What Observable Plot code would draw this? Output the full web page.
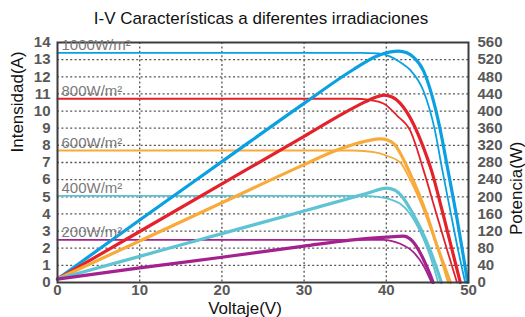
<!DOCTYPE html>
<html>
<head>
<meta charset="utf-8">
<script src="https://cdn.jsdelivr.net/npm/d3@7"></script>
<script src="https://cdn.jsdelivr.net/npm/@observablehq/plot@0.6"></script>
<style>
html, body { margin: 0; padding: 0; background: #fff; }
#chart svg { display: block; }
</style>
</head>
<body>
<div id="chart"></div>
<script>
// ---- data ----
const chartTitle = "I-V Características a diferentes irradiaciones";
const xLabel = "Voltaje(V)";
const yLabelLeft = "Intensidad(A)";
const yLabelRight = "Potencia(W)";

const irradiances = ["1000W/m²", "800W/m²", "600W/m²", "400W/m²", "200W/m²"];
const seriesColors = ["#0aa0e2", "#e4222b", "#f8aa3a", "#5ec3d3", "#a3228e"];

const xTicks = [0, 10, 20, 30, 40, 50];
const currentTicks = [0, 1, 2, 3, 4, 5, 6, 7, 8, 9, 10, 11, 12, 13, 14];
const powerTicks = [0, 40, 80, 120, 160, 200, 240, 280, 320, 360, 400, 440, 480, 520, 560];

// I-V curves: [voltage (V), current (A)]
const iv1000 = [[0,13.4],[37,13.4],[39,13.36],[40.5,13.18],[41.7,12.85],[42.9,12.4],[44.5,11.2],[45.9,8.9],[46.8,6.6],[47.7,4.4],[48.6,2.2],[49.6,0]];
const iv800  = [[0,10.72],[36,10.72],[38,10.65],[39.7,10.43],[41.3,9.74],[42.9,8.87],[44.5,6.6],[46.1,4.0],[47.4,1.9],[48.6,0]];
const iv600  = [[0,7.7],[36,7.7],[38.5,7.6],[40,7.4],[41.7,7.0],[42.9,6.0],[44.9,3.8],[46.3,1.9],[47.5,0]];
const iv400  = [[0,5.05],[37,5.05],[39,5.0],[40.5,4.85],[41.7,4.59],[42.9,4.0],[44,3.1],[44.9,2.1],[45.7,1.0],[46.3,0]];
const iv200  = [[0,2.49],[39.6,2.49],[40.7,2.42],[41.7,2.26],[43.3,1.77],[44.5,1.0],[45.5,0]];

// P-V curves: [voltage (V), power (W)]
const pv1000 = [[0,8],[10,146],[20,282],[30,418],[36,497],[38.8,528],[40.5,538],[41.5,540],[42.5,536],[43.3,526],[44.5,495],[45.5,440],[46.5,362],[47.5,262],[48.5,160],[49.9,0]];
const pv800  = [[0,8],[10,119],[20,230],[30,341],[35,397],[37.5,422],[38.7,432],[39.7,437],[40.7,433],[41.7,418],[43.3,370],[44.5,316],[45.5,261],[46.9,160],[49.0,0]];
const pv600  = [[0,8],[10,97],[20,186],[30,275],[34,309],[36,322],[37.8,331],[39.3,335],[40.2,332],[40.9,324],[42.9,254],[44.9,160],[46.1,90],[47.8,0]];
const pv400  = [[0,8],[10,61],[20,114],[30,167],[36,199],[38,210],[40,220],[41,216],[42.1,196],[43.1,165],[44.1,129],[45.5,67],[46.7,0]];
const pv200  = [[0,8],[10,34],[20,59],[30,85],[35.6,99],[40,106],[42.1,108],[42.8,103],[43.3,94],[44.5,55],[45.3,20],[45.7,0]];

const ivCurves = [iv1000, iv800, iv600, iv400, iv200];
const pvCurves = [pv1000, pv800, pv600, pv400, pv200];

// ---- build tables ----
const powerPerAmp = powerTicks[powerTicks.length - 1] / currentTicks[currentTicks.length - 1];
const ivRows = [], pvRows = [];
irradiances.forEach((irr, k) => {
  ivCurves[k].forEach(([v, a]) => ivRows.push({v, y: a, irr, series: "iv" + k}));
  pvCurves[k].forEach(([v, w]) => pvRows.push({v, y: w / powerPerAmp, irr, series: "pv" + k}));
});
const labelRows = irradiances.map((irr, k) => ({irr, y: ivCurves[k][0][1]}));

const tickStyle = {tickSize: 0, fontSize: 15, fontWeight: "bold", color: "#585858"};

const chart = Plot.plot({
  width: 525,
  height: 317,
  marginLeft: 57,
  marginRight: 57,
  marginTop: 42,
  marginBottom: 35,
  style: {fontFamily: "'Liberation Sans', Arial, sans-serif", background: "#fff", overflow: "visible"},
  x: {domain: [0, 50]},
  y: {domain: [0, 14]},
  color: {domain: irradiances, range: seriesColors},
  marks: [
    Plot.gridY(currentTicks.slice(1, -1), {stroke: "#555", strokeOpacity: 1, strokeWidth: 1.3, strokeDasharray: "2,2.4"}),
    Plot.gridX(xTicks.slice(1, -1), {stroke: "#555", strokeOpacity: 1, strokeWidth: 1.3, strokeDasharray: "2,2.4"}),
    Plot.line(ivRows, {x: "v", y: "y", z: "series", stroke: "irr", strokeWidth: 1.8, curve: "monotone-x"}),
    Plot.line(pvRows, {x: "v", y: "y", z: "series", stroke: "irr", strokeWidth: 3.2, curve: "monotone-x"}),
    Plot.frame({stroke: "#3c3c3c", strokeWidth: 2}),
    Plot.axisY(currentTicks, {anchor: "left", tickPadding: 7, label: null, ...tickStyle}),
    Plot.axisY(currentTicks, {anchor: "right", tickPadding: 9, label: null, tickFormat: d => powerTicks[currentTicks.indexOf(d)], ...tickStyle}),
    Plot.axisX(xTicks, {anchor: "bottom", tickPadding: 1.5, label: null, ...tickStyle}),
    Plot.text(labelRows, {x: () => 0, y: "y", text: "irr", textAnchor: "start", lineAnchor: "bottom", dx: 4, dy: -3, fontSize: 15, fill: "#7a7a7a"}),
    Plot.text([chartTitle], {frameAnchor: "top", lineAnchor: "bottom", dx: -2, dy: -19, fontSize: 17, fill: "#111"}),
    Plot.text([xLabel], {frameAnchor: "bottom", lineAnchor: "bottom", dx: -18, dy: 31, fontSize: 17, fill: "#111"}),
    Plot.text([yLabelLeft], {frameAnchor: "left", lineAnchor: "bottom", rotate: -90, dx: -35, dy: -10, fontSize: 17, fill: "#111"}),
    Plot.text([yLabelRight], {frameAnchor: "right", lineAnchor: "bottom", rotate: -90, dx: 53, dy: -21, fontSize: 17, fill: "#111"})
  ]
});
document.getElementById("chart").appendChild(chart);
</script>
</body>
</html>
